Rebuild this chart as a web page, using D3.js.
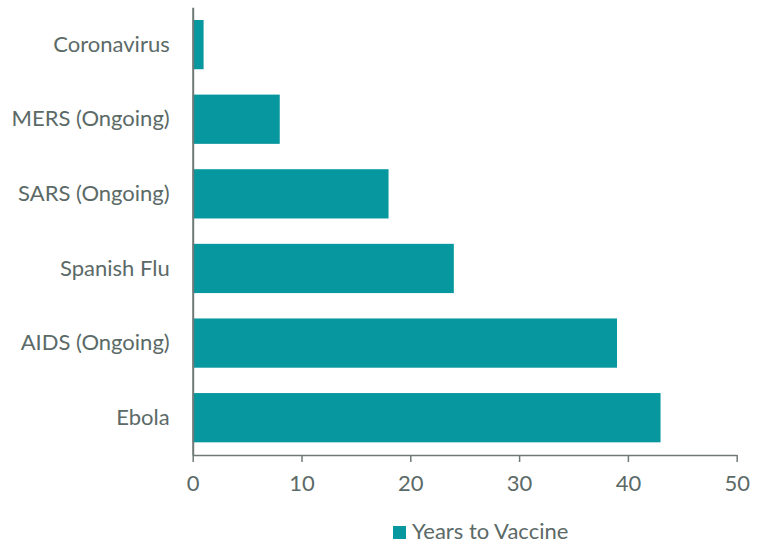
<!DOCTYPE html>
<html><head><meta charset="utf-8">
<script src="https://cdn.jsdelivr.net/npm/d3@7"></script>
<style>body{margin:0;background:#fff}svg text{font-family:Lato,"Open Sans",sans-serif}</style>
</head><body>
<svg id="c" width="761" height="544"></svg>
<script>
const categories = ["Coronavirus","MERS (Ongoing)","SARS (Ongoing)","Spanish Flu","AIDS (Ongoing)","Ebola"];
const years = [1, 8, 18, 24, 39, 43];
const xTicks = [0,10,20,30,40,50];
const seriesName = "Years to Vaccine";

const barColor = "#06979f", textColor = "#5b6a67", axisColor = "#6f7a77";
const svg = d3.select("#c");
const fs = 22;
const x = d3.scaleLinear().domain([0,50]).range([192.7,736.7]);
const y = d3.scaleBand().domain(categories).range([7.3,455]).paddingInner(0.34).paddingOuter(0.17);

svg.selectAll("rect.bar").data(categories).join("rect").attr("class","bar")
  .attr("x", x(0)).attr("y", d=>y(d))
  .attr("width", (d,i)=>x(years[i])-x(0)).attr("height", y.bandwidth())
  .attr("fill", barColor);

const xa = svg.append("g").attr("transform","translate(0,455)")
  .call(d3.axisBottom(x).tickValues(xTicks).tickSize(7).tickPadding(13).tickSizeOuter(0));
xa.select(".domain").attr("stroke",axisColor).attr("stroke-width",1.5);
xa.selectAll(".tick line").attr("stroke",axisColor).attr("stroke-width",1.5);
xa.selectAll("text").attr("fill",textColor).attr("font-size",fs).attr("font-family","Lato");

const ya = svg.append("g").attr("transform",`translate(${x(0)},0)`)
  .call(d3.axisLeft(y).tickSize(0).tickPadding(23));
ya.select(".domain").attr("stroke",axisColor).attr("stroke-width",2);
ya.selectAll("text").attr("fill",textColor).attr("font-size",fs).attr("font-family","Lato");

const lg = svg.append("g");
lg.append("rect").attr("x",393).attr("y",526).attr("width",13).attr("height",13).attr("fill",barColor);
lg.append("text").attr("x",412).attr("y",539).attr("fill",textColor).attr("font-size",fs).text(seriesName);
</script>
</body></html>
